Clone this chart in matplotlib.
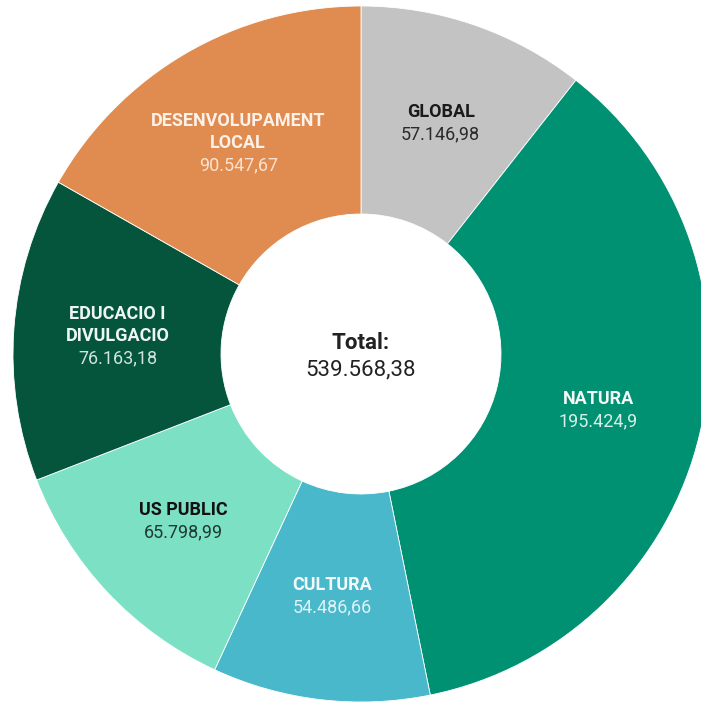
import matplotlib
matplotlib.use("Agg")
import matplotlib.pyplot as plt
import numpy as np

plt.rcParams['font.family'] = ['Roboto', 'DejaVu Sans']

categories = ["GLOBAL", "NATURA", "CULTURA", "US PUBLIC", "EDUCACIO I\nDIVULGACIO", "DESENVOLUPAMENT\nLOCAL"]
values = [57146.98, 195424.9, 54486.66, 65798.99, 76163.18, 90547.67]
colors = ["#c3c3c3", "#009173", "#4ab8cb", "#7be0c4", "#04553b", "#e08b50"]
name_colors = ["#1a1a1a", "#f4f8f6", "#f4fafb", "#111111", "#eef6f3", "#fdf1e8"]
value_colors = ["#2a2a2a", "#d8efe9", "#dff3f6", "#1e3a32", "#cfe5dd", "#fbe2cf"]
total_label = "Total:"

def fmt(v):
    s = "{:,}".format(round(v, 2))
    return s.replace(",", "X").replace(".", ",").replace("X", ".")

W, H = 701, 704
cx, cy, R = 361, 354, 348
inner = 140

fig = plt.figure(figsize=(W / 100, H / 100), dpi=100)
ax = fig.add_axes([0, 0, 1, 1])
wedges, _ = ax.pie(values, colors=colors, startangle=90, counterclock=False,
                   radius=1.0, wedgeprops=dict(width=1 - inner / R, edgecolor="white", linewidth=0.6))
ax.set_aspect('auto')
ax.set_xlim(-cx / R, (W - cx) / R)
ax.set_ylim(-(H - cy) / R, cy / R)
ax.axis('off')

mid_r = (1 + inner / R) / 2
line_px = 22
for w, name, val, nc, vc in zip(wedges, categories, values, name_colors, value_colors):
    ang = np.deg2rad((w.theta1 + w.theta2) / 2)
    x, y = mid_r * np.cos(ang), mid_r * np.sin(ang)
    lines = [(l, True, nc) for l in name.split("\n")] + [(fmt(val), False, vc)]
    n = len(lines)
    for i, (txt, bold, col) in enumerate(lines):
        off = -(i - (n - 1) / 2) * line_px
        ax.annotate(txt, (x, y), xytext=(0, off), textcoords='offset pixels',
                    ha='center', va='center', fontsize=13, color=col,
                    fontweight='bold' if bold else 'normal')

total = round(sum(values), 2)
ax.annotate(total_label, (0, 0), xytext=(0, 11), textcoords='offset pixels',
            ha='center', va='center', fontsize=16, fontweight='bold', color='#222222')
ax.annotate(fmt(total), (0, 0), xytext=(0, -16), textcoords='offset pixels',
            ha='center', va='center', fontsize=16, color='#222222')

fig.savefig("out.png", dpi=100, facecolor="white")
